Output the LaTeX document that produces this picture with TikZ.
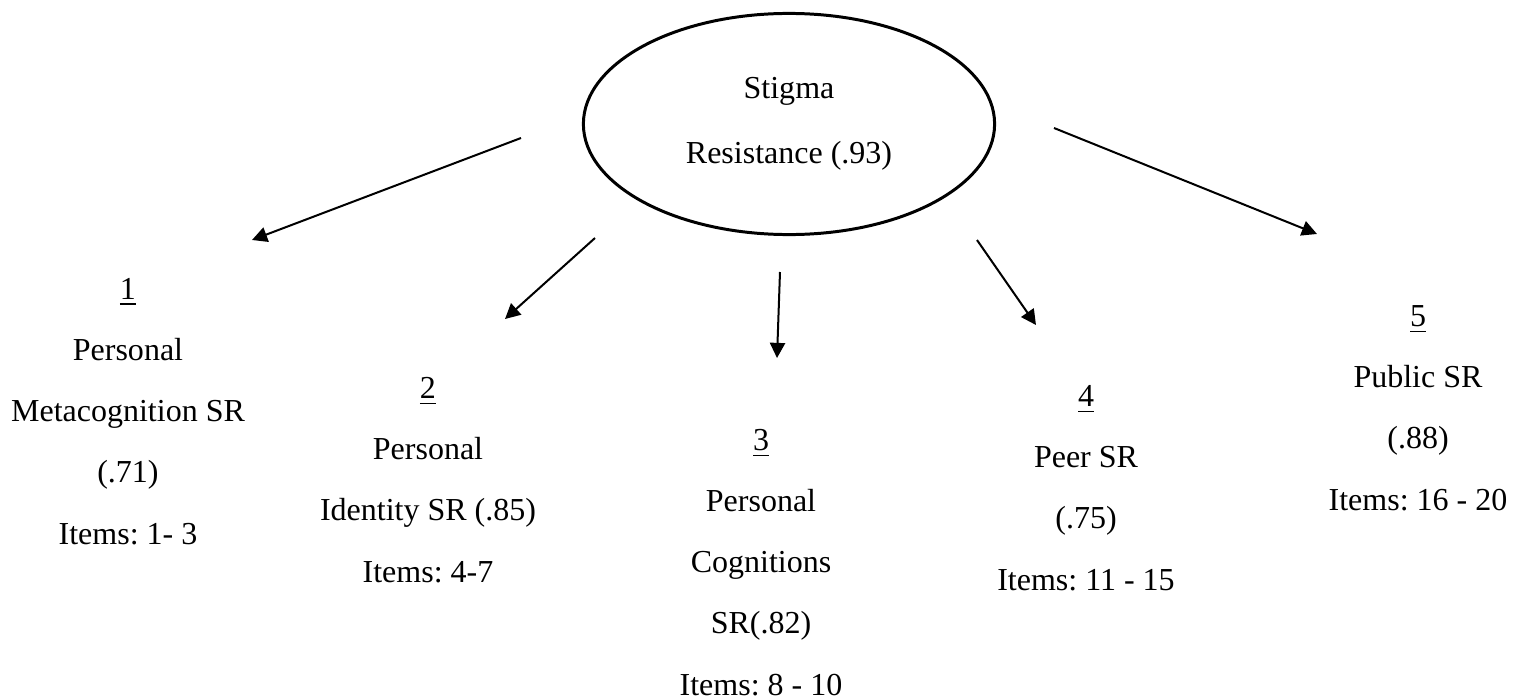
\documentclass[tikz,border=0pt]{standalone}
\usepackage{fontspec}
\setmainfont{Liberation Serif}
\frenchspacing
\usetikzlibrary{arrows.meta,shapes.geometric}
\begin{document}
\begin{tikzpicture}[x=0.01cm,y=-0.01cm,
  factor/.style={anchor=base,align=center,inner sep=0pt,font=\fontsize{9.1}{17.4}\selectfont},
  path arrow/.style={black,line width=0.57pt,-{Triangle[length=4.3pt,width=4.3pt]}}]
\useasboundingbox (0,0) rectangle (1514,700);

\node[draw,shape=ellipse,line width=0.85pt,minimum width=4.11cm,minimum height=2.21cm,inner sep=0pt,align=center,font=\fontsize{9.1}{18.5}\selectfont] (stigma) at (789,124) {Stigma\\Resistance (.93)};

\node[factor] (metacog) at (128,544) {\underline{1}\\Personal\\Metacognition SR\\(.71)\\Items: 1- 3};
\node[factor] (identity) at (428,582) {\underline{2}\\Personal\\Identity SR (.85)\\Items: 4-7};
\node[factor] (cognitions) at (761,695) {\underline{3}\\Personal\\Cognitions\\SR(.82)\\Items: 8 - 10};
\node[factor] (peer) at (1086,590) {\underline{4}\\Peer SR\\(.75)\\Items: 11 - 15};
\node[factor] (public) at (1418,510) {\underline{5}\\Public SR\\(.88)\\Items: 16 - 20};

\coordinate (from1) at (521,138);
\coordinate (to1) at (252,240);
\coordinate (from2) at (595,238);
\coordinate (to2) at (505,319);
\coordinate (from3) at (780,272);
\coordinate (to3) at (777,358);
\coordinate (from4) at (977,240);
\coordinate (to4) at (1036,325);
\coordinate (from5) at (1054,128);
\coordinate (to5) at (1317,234);

\draw[path arrow] (from1) -- (to1);
\draw[path arrow] (from2) -- (to2);
\draw[path arrow] (from3) -- (to3);
\draw[path arrow] (from4) -- (to4);
\draw[path arrow] (from5) -- (to5);

\end{tikzpicture}
\end{document}
